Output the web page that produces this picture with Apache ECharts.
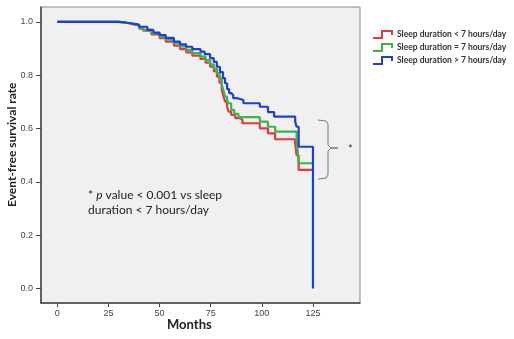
<!DOCTYPE html>
<html>
<head>
<meta charset="utf-8">
<script src="https://cdn.jsdelivr.net/npm/echarts@6/dist/echarts.min.js"></script>
<style>
    html, body { margin: 0; padding: 0; background: #fff; }
    #chart { width: 514px; height: 339px; }
</style>
</head>
<body>
<div id="chart"></div>
<script>
// 数据: Kaplan-Meier 曲线 (months / survival)
const seriesNames = ['Sleep duration < 7 hours/day', 'Sleep duration = 7 hours/day', 'Sleep duration > 7 hours/day'];

const redMonths = [0, 26, 30, 33, 36, 40, 42, 46, 50, 53, 57, 60, 63, 66, 70, 72.5, 74.7, 76.5, 78, 79.3, 80.4, 81.3, 82, 83, 83.7, 85, 87, 89.4, 90.5, 99, 103, 106.5, 116.3, 117, 118, 125];
const redSurv = [1, 1, 0.998, 0.993, 0.987, 0.975, 0.967, 0.953, 0.939, 0.926, 0.911, 0.898, 0.886, 0.874, 0.861, 0.847, 0.832, 0.815, 0.795, 0.772, 0.745, 0.72, 0.701, 0.682, 0.664, 0.651, 0.639, 0.633, 0.62, 0.601, 0.582, 0.56, 0.545, 0.5, 0.445, 0.445];

const greenMonths = [0, 26, 30, 33, 36, 40, 42, 46, 50, 53, 57, 60, 63, 66, 70, 72.5, 74.7, 76.5, 78, 79.3, 80.4, 81.3, 82, 83, 83.7, 85, 86.5, 88.6, 99, 103, 106.5, 117, 117.5, 118, 125];
const greenSurv = [1, 1, 0.998, 0.994, 0.988, 0.978, 0.97, 0.958, 0.945, 0.934, 0.92, 0.908, 0.895, 0.883, 0.87, 0.857, 0.841, 0.825, 0.808, 0.788, 0.764, 0.742, 0.72, 0.705, 0.695, 0.67, 0.655, 0.643, 0.626, 0.607, 0.589, 0.564, 0.52, 0.47, 0.47];

const blueMonths = [0, 26, 30, 33, 36, 40, 44, 47, 50, 53, 57, 60, 63, 66, 70, 72, 74.7, 76.5, 78, 79.5, 81, 82, 83, 84, 85, 86, 88, 91, 99, 103, 106, 116.3, 117, 118, 125, 125];
const blueSurv = [1, 1, 0.998, 0.995, 0.99, 0.982, 0.97, 0.96, 0.951, 0.94, 0.926, 0.916, 0.907, 0.898, 0.889, 0.879, 0.864, 0.85, 0.832, 0.812, 0.789, 0.77, 0.748, 0.733, 0.726, 0.714, 0.707, 0.695, 0.682, 0.662, 0.645, 0.626, 0.607, 0.532, 0.532, 0];

const xTicks = [0, 25, 50, 75, 100, 125];
const yTicks = [0, 0.2, 0.4, 0.6, 0.8, 1.0];

const colors = ['#e03a3e', '#3ab54a', '#1c3fd6'];

const toPairs = (xs, ys) => xs.map((x, i) => [x, ys[i]]);

const stepIcon = 'path://M0,8 L9,8 L9,1 L19,1 L19,5 L19,1 L9,1 L9,8 Z';

const chart = echarts.init(document.getElementById('chart'));

const option = {
    animation: false,
    grid: {
        left: 41,
        top: 7,
        right: 154,
        bottom: 36,
        show: true,
        backgroundColor: '#f0f0f0',
        borderColor: '#8a8a8a',
        borderWidth: 1
    },
    legend: {
        orient: 'vertical',
        left: 372,
        top: 30,
        padding: 0,
        itemWidth: 19,
        itemHeight: 7,
        itemGap: 4,
        textStyle: {
            fontFamily: 'Lato',
            fontWeight: 'bold',
            fontSize: 8.5,
            color: '#333'
        },
        data: seriesNames.map((name, i) => ({
            name: name,
            icon: stepIcon,
            itemStyle: { color: 'transparent', borderColor: colors[i], borderWidth: 2 }
        }))
    },
    xAxis: {
        type: 'value',
        min: -8,
        max: 148,
        axisLine: { show: true, onZero: false, lineStyle: { color: '#444', width: 1.5 } },
        axisTick: { show: true, length: 4, customValues: xTicks, lineStyle: { color: '#444' } },
        axisLabel: {
            customValues: xTicks,
            margin: 6,
            fontFamily: 'Liberation Sans',
            fontSize: 9,
            color: '#444'
        },
        splitLine: { show: false }
    },
    yAxis: {
        type: 'value',
        min: -0.054,
        max: 1.056,
        axisLine: { show: true, onZero: false, lineStyle: { color: '#444', width: 1.5 } },
        axisTick: { show: true, length: 5, customValues: yTicks, lineStyle: { color: '#444' } },
        axisLabel: {
            customValues: yTicks,
            margin: 8,
            fontFamily: 'Liberation Sans',
            fontSize: 9,
            color: '#444',
            formatter: (v) => v.toFixed(1)
        },
        splitLine: { show: false }
    },
    graphic: [
        {
            type: 'text',
            left: 167,
            top: 318,
            style: { text: 'Months', font: 'bold 13px Lato', fill: '#222' }
        },
        {
            type: 'text',
            x: 6,
            y: 207,
            rotation: Math.PI / 2,
            style: { text: 'Event-free survival rate', font: 'bold 12px Lato', fill: '#222' }
        },
        {
            type: 'text',
            left: 88,
            top: 188,
            style: {
                text: '* {i|p} value < 0.001 vs sleep\nduration < 7 hours/day',
                font: '12px Lato',
                fill: '#222',
                lineHeight: 15,
                rich: {
                    i: { fontStyle: 'italic', fontFamily: 'Lato', fontSize: 12, fill: '#222' }
                }
            }
        },
        {
            // 括号
            type: 'polyline',
            shape: { points: [[318, 120], [326, 121], [328, 124], [328, 145], [331, 148], [338, 148], [331, 148], [328, 151], [328, 175], [326, 178], [318, 179]] },
            style: { stroke: '#777', lineWidth: 1, fill: null }
        },
        {
            type: 'text',
            left: 348,
            top: 144,
            style: { text: '*', font: '11px Lato', fill: '#333' }
        }
    ],
    series: [
        { name: seriesNames[0], data: toPairs(redMonths, redSurv), color: colors[0] },
        { name: seriesNames[1], data: toPairs(greenMonths, greenSurv), color: colors[1] },
        { name: seriesNames[2], data: toPairs(blueMonths, blueSurv), color: colors[2] }
    ].map((s) => ({
        name: s.name,
        type: 'line',
        step: 'end',
        showSymbol: false,
        data: s.data,
        lineStyle: { color: s.color, width: 2.2 },
        itemStyle: { color: s.color }
    }))
};

chart.setOption(option);
</script>
</body>
</html>
